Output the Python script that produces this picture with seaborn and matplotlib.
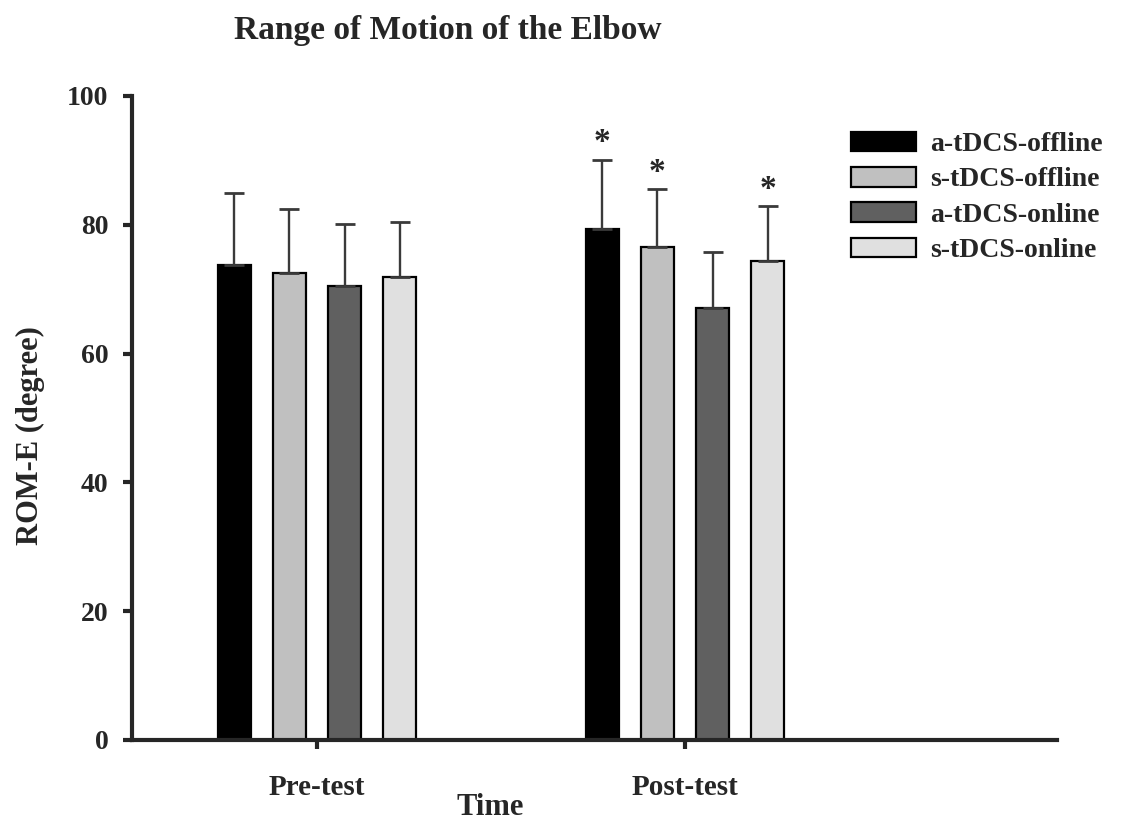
import pandas as pd
import matplotlib.pyplot as plt
import seaborn as sns

times = ["Pre-test", "Post-test"]
groups = ["a-tDCS-offline", "s-tDCS-offline", "a-tDCS-online", "s-tDCS-online"]
colors = ["#000000", "#c0c0c0", "#606060", "#e0e0e0"]

# means per group, [pre, post]
a_off = [73.7, 79.4]
s_off = [72.5, 76.6]
a_on = [70.5, 67.1]
s_on = [71.9, 74.3]
# upper error bars (SD)
a_off_sd = [11.2, 10.7]
s_off_sd = [9.9, 8.9]
a_on_sd = [9.6, 8.7]
s_on_sd = [8.6, 8.6]
# significant vs pre-test
a_off_sig = [False, True]
s_off_sig = [False, True]
a_on_sig = [False, False]
s_on_sig = [False, True]

means = [a_off, s_off, a_on, s_on]
sds = [a_off_sd, s_off_sd, a_on_sd, s_on_sd]
sigs = [a_off_sig, s_off_sig, a_on_sig, s_on_sig]

rows = []
for g, m in zip(groups, means):
    for t, v in zip(times, m):
        rows.append({"Time": t, "group": g, "value": v})
df = pd.DataFrame(rows)

sns.set_style("ticks")
plt.rcParams["font.family"] = ["Liberation Serif", "DejaVu Serif"]
plt.rcParams["font.weight"] = "bold"

fig = plt.figure(figsize=(11.29, 8.22), dpi=100)
ax = fig.add_axes([0.1165, 0.0998, 0.8198, 0.7835])

sns.barplot(data=df, x="Time", y="value", hue="group", palette=colors,
            width=0.6, gap=0.4, edgecolor="black", linewidth=1.6,
            errorbar=None, ax=ax)

for cont, sd, sig in zip(ax.containers, sds, sigs):
    xs = [b.get_x() + b.get_width() / 2 for b in cont]
    ys = [b.get_height() for b in cont]
    ax.errorbar(xs, ys, yerr=[[0] * len(sd), sd], fmt="none", ecolor="#3a3a3a",
                elinewidth=1.7, capsize=7.5, capthick=2.0, zorder=1)
    for x, y, e, s in zip(xs, ys, sd, sig):
        if s:
            ax.text(x, y + e + 2.6, "*", ha="center", va="center", fontsize=24,
                    fontweight="bold")

ax.set_ylim(0, 100)
ax.set_xlim(-0.504, 2.011)
ax.set_yticks([0, 20, 40, 60, 80, 100])
sns.despine(ax=ax)
for sp in ["left", "bottom"]:
    ax.spines[sp].set_linewidth(3)
ax.tick_params(axis="both", width=3, length=6.5)
ax.tick_params(axis="y", pad=10, labelsize=20)
ax.tick_params(axis="x", pad=18, labelsize=21)
ax.set_xlabel("Time", fontsize=22, fontweight="bold")
ax.xaxis.set_label_coords(0.388, -0.083)
ax.set_ylabel("ROM-E (degree)", fontsize=22, fontweight="bold")
ax.yaxis.set_label_coords(-0.093, 0.472)

ax.legend(loc="upper left", bbox_to_anchor=(0.754, 0.840),
          bbox_transform=fig.transFigure, frameon=False, fontsize=20,
          handlelength=2.34, handleheight=0.72, handletextpad=0.5,
          labelspacing=0.35, borderpad=0, borderaxespad=0)

fig.text(0.397, 0.963, "Range of Motion of the Elbow", ha="center", va="center",
         fontsize=24, fontweight="bold")

fig.savefig("out.png", dpi=100)
